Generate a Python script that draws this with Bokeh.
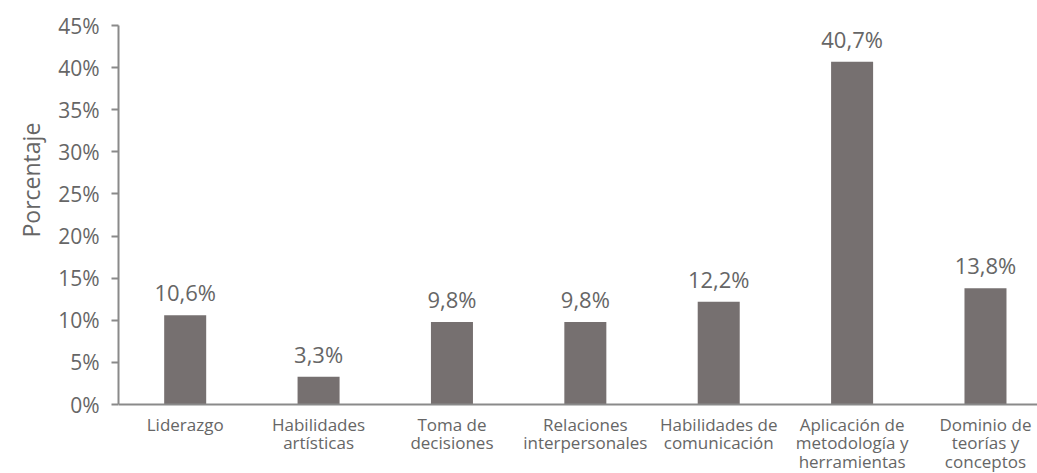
import numpy as np
from bokeh.plotting import figure
from bokeh.models import (ColumnDataSource, FixedTicker, PrintfTickFormatter, Range1d,
                          LabelSet, Span, Title)
from bokeh.core.properties import value
from bokeh.embed import file_html
from bokeh.resources import INLINE

categories = ["Liderazgo", "Habilidades\nartísticas", "Toma de\ndecisiones",
              "Relaciones\ninterpersonales", "Habilidades de\ncomunicación",
              "Aplicación de\nmetodología y\nherramientas", "Dominio de\nteorías y\nconceptos"]
values = [10.6, 3.3, 9.8, 9.8, 12.2, 40.7, 13.8]
y_ticks = [0, 5, 10, 15, 20, 25, 30, 35, 40, 45]

FONT = "Open Sans"
TXT = "#666666"
BAR = "#767070"
AX = "#8a8a8a"

pos = np.arange(len(categories)) + 0.5
labels = [f"{v:.1f}".replace(".", ",") + "%" for v in values]
split = [c.split("\n") for c in categories]
cat_lines = [[s[i] if i < len(s) else "" for s in split] for i in range(3)]
src = ColumnDataSource(dict(x=pos, top=values, lab=labels, base=[0] * len(values),
                            l0=cat_lines[0], l1=cat_lines[1], l2=cat_lines[2]))

p = figure(width=1037, height=473, output_backend="svg", toolbar_location=None,
           x_range=Range1d(0, 6.89), y_range=Range1d(-8.19, 45),
           x_axis_location=None,
           min_border_left=118, min_border_right=0, min_border_top=25, min_border_bottom=0)
p.outline_line_color = None
p.xgrid.grid_line_color = None
p.ygrid.grid_line_color = None
p.background_fill_color = "white"
p.border_fill_color = "white"

p.vbar(x="x", top="top", width=0.315, bottom=0, source=src, fill_color=BAR, line_color=None)

p.add_layout(Span(location=0, dimension="width", line_color=AX, line_width=2))

ls = LabelSet(x="x", y="top", text="lab", source=src, text_align="center",
              text_baseline="bottom", y_offset=8, text_font=value(FONT),
              text_font_size="22px", text_color=TXT)
p.add_layout(ls)

for i, off in enumerate([-26, -44.5, -63]):
    p.add_layout(LabelSet(x="x", y="base", text=f"l{i}", source=src, text_align="center",
                          text_baseline="alphabetic", y_offset=off, text_font=value(FONT),
                          text_font_size="17px", text_color=TXT))

p.yaxis.ticker = FixedTicker(ticks=y_ticks)
p.yaxis.bounds = (0, 45)
p.yaxis.formatter = PrintfTickFormatter(format="%d%%")
p.yaxis.major_tick_out = 7
p.yaxis.major_tick_in = 0
p.yaxis.major_tick_line_color = AX
p.yaxis.major_tick_line_width = 2
p.yaxis.minor_tick_line_color = None
p.yaxis.axis_line_color = AX
p.yaxis.axis_line_width = 2
p.yaxis.major_label_text_font = FONT
p.yaxis.major_label_text_font_size = "21px"
p.yaxis.major_label_text_color = TXT
p.yaxis.major_label_standoff = 12

p.add_layout(Title(text="Porcentaje", align="left", offset=236, standoff=18,
                   text_font=FONT, text_font_size="23px", text_font_style="normal",
                   text_color=TXT), "left")

open("out.html", "w").write(file_html(p, INLINE))
